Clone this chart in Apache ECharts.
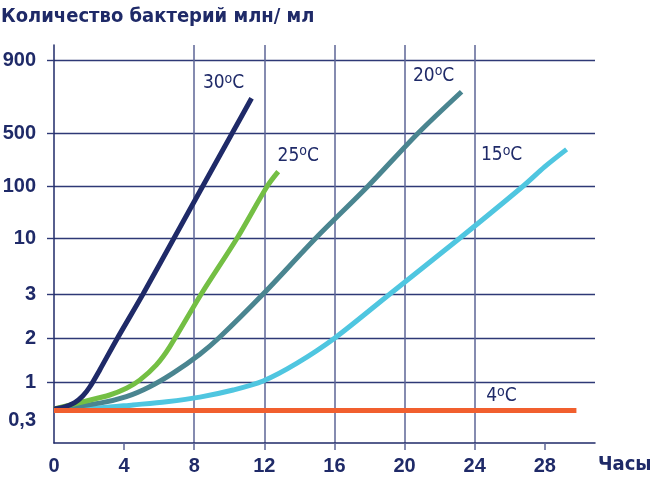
<!DOCTYPE html>
<html><head><meta charset="utf-8">
<script src="https://cdn.jsdelivr.net/npm/echarts@6/dist/echarts.min.js"></script>
<style>html,body{margin:0;padding:0;background:#fff}#c{width:650px;height:481px}</style>
</head><body><div id="c"></div>
<script>
// ---- data ----
const titleText = 'Количество бактерий млн/ мл';
const xName = 'Часы';
const xTicks = [0, 4, 8, 12, 16, 20, 24, 28];
const yTickValues = [0.3, 1, 2, 3, 10, 100, 500, 900];
const yTickLabels = ['0,3', '1', '2', '3', '10', '100', '500', '900'];

const hours30 = [0, 0.61, 1.18, 1.64, 2.04, 2.61, 3.56, 5.08, 6.85, 8.49, 10.17, 11.27];
const counts30 = [0.3, 0.331, 0.40, 0.536, 0.80, 1.21, 1.94, 3, 10, 100, 500, 661];

const hours25 = [0, 1.66, 3.18, 4.13, 4.89, 5.84, 6.60, 8.40, 10.45, 12.17, 12.79];
const counts25 = [0.3, 0.415, 0.56, 0.755, 1.03, 1.31, 1.74, 3, 10, 100, 155];

const hours20 = [0, 2.61, 4.13, 5.46, 6.79, 8.32, 9.4, 11.93, 14.94, 17.92, 20.78, 23.25];
const counts20 = [0.3, 0.39, 0.52, 0.81, 1.15, 1.55, 2, 3, 10, 100, 500, 697];

const hours15 = [0, 2.61, 4.51, 6.42, 8.32, 10.22, 11.93, 13.84, 16.02, 19.16, 23.16, 26.77, 28, 29.24];
const counts15 = [0.3, 0.315, 0.36, 0.415, 0.51, 0.70, 1.016, 1.34, 2, 3, 10, 100, 180, 304];

const hours4 = [0, 29.8];
const counts4 = [0.28, 0.28];

// ---- layout (axis scale with the uneven tick spacing of the picture) ----
const yTickPos = [34, 61, 105, 149, 205, 257, 310, 383];
const yLabelPos = [23, 61, 105, 149, 205, 257, 310, 383];
const yMax = 398;
const xMax = 30.86;

function toAxis(v) {
  let i = 0;
  while (i < yTickValues.length - 2 && v > yTickValues[i + 1]) i++;
  const a = yTickValues[i], b = yTickValues[i + 1];
  const t = Math.log(v / a) / Math.log(b / a);
  return yTickPos[i] + t * (yTickPos[i + 1] - yTickPos[i]);
}

const FF = '"DejaVu Sans Condensed", sans-serif';
const FN = '"Liberation Sans", Arial, sans-serif';
const NAVY = '#1f2a68';
const GRIDH = '#2e3976';
const GRIDV = '#5c6596';

function mkLabel(name, offset) {
  return {
    show: true, position: 'inside', offset: offset,
    formatter: '{a|' + name + '}{b|o}{a|C}',
    rich: {
      a: { fontFamily: FF, fontSize: 19, color: NAVY, lineHeight: 22, verticalAlign: 'middle' },
      b: { fontFamily: FF, fontSize: 14, color: NAVY, lineHeight: 12, verticalAlign: 'top' }
    }
  };
}

function mkSeries(name, hrs, cnts, color, offset, z) {
  const data = hrs.map((h, i) => [h, toAxis(cnts[i])]);
  const last = data.length - 1;
  data[last] = { value: data[last], label: mkLabel(name, offset) };
  return {
    type: 'line', name: name, data: data, z: z,
    smooth: 0.3, showSymbol: true, symbol: 'circle', symbolSize: 0.1,
    itemStyle: { color: color }, label: { show: false },
    lineStyle: { color: color, width: 5, cap: 'butt' },
    silent: true, animation: false
  };
}

const chart = echarts.init(document.getElementById('c'), null, { renderer: 'canvas' });
chart.setOption({
  animation: false,
  backgroundColor: '#fff',
  title: {
    text: titleText, left: 1, top: 7, padding: 0,
    textStyle: { fontFamily: FF, fontSize: 20, fontWeight: 'bold', color: NAVY }
  },
  grid: { left: 54, right: 55, top: 45, bottom: 38, containLabel: false, outerBoundsMode: 'none' },
  xAxis: {
    type: 'value', min: 0, max: xMax, interval: 4,
    name: xName, nameLocation: 'end', nameGap: 3,
    nameTextStyle: { fontFamily: FF, fontSize: 20, fontWeight: 'bold', color: NAVY, verticalAlign: 'top', align: 'left', padding: [12, 0, 0, 0] },
    axisLine: { show: true, lineStyle: { color: NAVY, width: 1.5 } },
    axisTick: { show: true, length: 7, customValues: xTicks.slice(1), lineStyle: { color: GRIDV, width: 1.5 } },
    axisLabel: { customValues: xTicks, margin: 13, fontFamily: FN, fontSize: 20, fontWeight: 'bold', color: NAVY, formatter: v => String(v) },
    splitLine: { show: true, showMinLine: false, showMaxLine: false,
      lineStyle: { color: [GRIDV, GRIDV, GRIDV, GRIDV, GRIDV, GRIDV, GRIDV, GRIDV, 'rgba(0,0,0,0)'], width: 1.5 } }
  },
  yAxis: {
    type: 'value', min: 0, max: yMax,
    axisLine: { show: true, lineStyle: { color: NAVY, width: 1.5 } },
    axisTick: { show: true, length: 7, customValues: yTickPos.slice(1), lineStyle: { color: GRIDH, width: 1.4 } },
    axisLabel: {
      customValues: yLabelPos, margin: 18, fontFamily: FN, fontSize: 20, fontWeight: 'bold', color: NAVY,
      formatter: v => { const i = yLabelPos.indexOf(Math.round(v)); return i >= 0 ? yTickLabels[i] : ''; }
    },
    splitLine: { show: true, lineStyle: { color: GRIDH, width: 1.4 } }
  },
  series: [
    mkSeries('15', hours15, counts15, '#4fc6e0', [-65, 6], 2),
    mkSeries('20', hours20, counts20, '#4a8590', [-28, -16], 3),
    mkSeries('25', hours25, counts25, '#74bf44', [20, -16], 4),
    mkSeries('30', hours30, counts30, '#1f2a68', [-28, -15], 5),
    mkSeries('4', hours4, counts4, '#f15f2e', [-75, -14], 6)
  ]
});
</script></body></html>
